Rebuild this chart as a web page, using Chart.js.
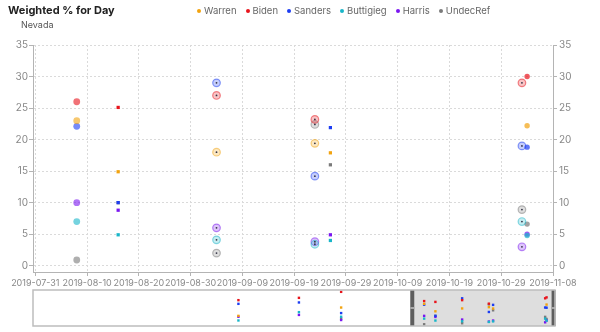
<!DOCTYPE html>
<html>
<head>
  <meta charset="utf-8">
  <title>Weighted % for Day</title>
  <style>
    body { margin: 0; background: #fff; font-family: Inter, "Noto Sans", sans-serif; }
    #wrap { position: relative; width: 600px; height: 332px; overflow: hidden; }
    #title { position: absolute; left: 8px; top: 3px; font-size: 11px; font-weight: 700; color: #222; }
    #sub { position: absolute; left: 21px; top: 19px; font-size: 9px; color: #555; }
    #legend { position: absolute; left: 197px; top: 5px; font-size: 9.5px; color: #666; display: flex; }
    #legend .item { display: flex; align-items: center; margin-right: 9px; }
    #legend i { display: inline-block; width: 4px; height: 4px; border-radius: 50%; margin-right: 3px; }
    #main { position: absolute; left: 0; top: 0; }
    #nav { position: absolute; left: 0; top: 286px; }
  </style>
</head>
<body>
<script src="https://cdn.jsdelivr.net/npm/chart.js@4/dist/chart.umd.min.js"></script>
<div id="wrap">
  <canvas id="main" width="600" height="292"></canvas>
  <canvas id="nav" width="600" height="46"></canvas>
  <div id="title">Weighted % for Day</div>
  <div id="sub">Nevada</div>
  <div id="legend"></div>
</div>
<script>
  // data
  var candidates = ['Warren', 'Biden', 'Sanders', 'Buttigieg', 'Harris', 'UndecRef'];
  var pollDates = ['2019-03-29', '2019-05-11', '2019-06-10', '2019-08-08', '2019-08-16',
                   '2019-09-04', '2019-09-23', '2019-09-26', '2019-11-02', '2019-11-03'];
  var warren    = [10,   null, 19,   23,  14.9, 18,  19.4, 17.9, null, 22.2];
  var biden     = [27,   29.5, 36,   26,  25.1, 27,  23.2, null, 29,   30];
  var sanders   = [23,   24.5, 13,   22.1, 10,  29,  14.2, 21.9, 19,   18.8];
  var buttigieg = [5,    14,   9,    7,   4.9,  4.1, 3.4,  4,    7,    4.8];
  var harris    = [9,    11,   5.5,  10,  8.8,  6,   3.8,  4.9,  3,    5];
  var undecRef  = [null, null, 7,    0.9, 10,   2,   22.4, 16,   8.9,  6.6];
  var series = [warren, biden, sanders, buttigieg, harris, undecRef];

  var xTicks = ['2019-07-31', '2019-08-10', '2019-08-20', '2019-08-30', '2019-09-09', '2019-09-19',
                '2019-09-29', '2019-10-09', '2019-10-19', '2019-10-29', '2019-11-08'];
  var yTicks = [0, 5, 10, 15, 20, 25, 30, 35];
  var navRange = ['2018-11-03', '2019-11-09'];

  // styles
  var colors = ['#f2a30f', '#e8141c', '#1c3df2', '#19b6c9', '#7a16f0', '#7a7a7a'];
  var markerForPoll = ['dot', 'dot', 'dot', 'soft', 'square', 'ring', 'ring', 'square', 'ring', 'dot'];
  var DAY = 86400000;
  var mainMin = Date.parse(xTicks[0]) - 0.45 * DAY;
  var mainMax = Date.parse(xTicks[xTicks.length - 1]);
  var tickFont = { family: 'Inter', size: 9 };

  function rgba(hex, a) {
    var n = parseInt(hex.slice(1), 16);
    return 'rgba(' + (n >> 16) + ',' + ((n >> 8) & 255) + ',' + (n & 255) + ',' + a + ')';
  }

  function points(values) {
    return pollDates.map(function(d, i) { return { x: Date.parse(d), y: values[i] }; });
  }

  // legend
  var legend = document.getElementById('legend');
  candidates.forEach(function(name, i) {
    var item = document.createElement('span');
    item.className = 'item';
    item.innerHTML = '<i style="background:' + colors[i] + '"></i>' + name;
    legend.appendChild(item);
  });

  function mainDataset(name, i) {
    var c = colors[i];
    function kind(ctx) { return markerForPoll[ctx.dataIndex]; }
    return {
      label: name,
      data: points(series[i]),
      pointStyle: function(ctx) { return kind(ctx) === 'square' ? 'rect' : 'circle'; },
      pointRadius: function(ctx) {
        var k = kind(ctx);
        return k === 'ring' ? 3.8 : k === 'soft' ? 3.4 : k === 'square' ? 2.3 : 2.7;
      },
      backgroundColor: function(ctx) {
        var k = kind(ctx);
        return k === 'ring' ? rgba(c, 0.25) : k === 'soft' ? rgba(c, 0.6) : k === 'square' ? c : rgba(c, 0.7);
      },
      borderColor: function(ctx) { return kind(ctx) === 'ring' ? rgba(c, 0.5) : 'rgba(0,0,0,0)'; },
      borderWidth: function(ctx) { return kind(ctx) === 'ring' ? 1.2 : 0; },
      pointHoverRadius: 4
    };
  }

  // dark dot in the middle of the ringed markers
  var ringCenters = {
    id: 'ringCenters',
    afterDatasetsDraw: function(chart) {
      var ctx = chart.ctx;
      chart.data.datasets.forEach(function(ds, di) {
        chart.getDatasetMeta(di).data.forEach(function(pt, i) {
          if (markerForPoll[i] !== 'ring' || pt.skip) return;
          ctx.save();
          ctx.beginPath();
          ctx.arc(pt.x, pt.y, 0.9, 0, 2 * Math.PI);
          ctx.fillStyle = '#334';
          ctx.fill();
          ctx.restore();
        });
      });
    }
  };

  var gridColor = '#dadada';
  var axisColor = '#b4b4b4';

  new Chart(document.getElementById('main'), {
    type: 'scatter',
    data: { datasets: candidates.map(mainDataset) },
    options: {
      responsive: false,
      animation: false,
      layout: { padding: { top: 45, left: 0, right: 0, bottom: 0 } },
      plugins: { legend: { display: false }, tooltip: { enabled: false } },
      scales: {
        x: {
          type: 'linear',
          min: mainMin,
          max: mainMax,
          afterBuildTicks: function(axis) {
            axis.ticks = xTicks.map(function(d) { return { value: Date.parse(d) }; });
          },
          afterFit: function(axis) { axis.height = 20; },
          ticks: {
            callback: function(v) { return new Date(v).toISOString().slice(0, 10); },
            autoSkip: false, maxRotation: 0, color: '#888', font: tickFont, padding: 2
          },
          grid: { color: gridColor, tickColor: axisColor, tickLength: 4 },
          border: { color: axisColor, dash: [2, 2] }
        },
        y: {
          position: 'left',
          min: -1,
          max: 35,
          afterBuildTicks: function(axis) {
            axis.ticks = yTicks.map(function(v) { return { value: v }; });
          },
          afterFit: function(axis) { axis.width = 33; },
          ticks: { color: '#888', font: { family: 'Inter', size: 10 }, padding: 1 },
          grid: { color: gridColor, tickColor: axisColor, tickLength: 4 },
          border: { color: axisColor, dash: [2, 2] }
        },
        y2: {
          position: 'right',
          min: -1,
          max: 35,
          afterBuildTicks: function(axis) {
            axis.ticks = yTicks.map(function(v) { return { value: v }; });
          },
          afterFit: function(axis) { axis.width = 47; },
          ticks: { color: '#888', font: { family: 'Inter', size: 10 }, padding: 2 },
          grid: { drawOnChartArea: false, color: gridColor, tickColor: axisColor, tickLength: 4 },
          border: { color: axisColor }
        }
      }
    },
    plugins: [ringCenters]
  });

  // navigator below the chart
  var navWindow = {
    id: 'navWindow',
    beforeDatasetsDraw: function(chart) {
      var ctx = chart.ctx, a = chart.chartArea, xs = chart.scales.x;
      var x1 = xs.getPixelForValue(mainMin), x2 = xs.getPixelForValue(mainMax);
      ctx.save();
      ctx.fillStyle = '#dedede';
      ctx.fillRect(x1, a.top, x2 - x1, a.bottom - a.top);
      ctx.restore();
    },
    afterDatasetsDraw: function(chart) {
      var ctx = chart.ctx, a = chart.chartArea, xs = chart.scales.x;
      var h = a.bottom - a.top;
      ctx.save();
      [mainMin, mainMax].forEach(function(v) {
        var px = xs.getPixelForValue(v);
        ctx.fillStyle = '#5e5e5e';
        ctx.fillRect(px - 2, a.top, 4, h);
        ctx.fillStyle = '#a8a8a8';
        ctx.fillRect(px - 2, a.top + h / 2 - 1, 4, 2);
      });
      ctx.strokeStyle = '#bdbdbd';
      ctx.lineWidth = 1.5;
      ctx.strokeRect(a.left, a.top, a.right - a.left, h);
      ctx.restore();
    }
  };

  new Chart(document.getElementById('nav'), {
    type: 'scatter',
    data: {
      datasets: candidates.map(function(name, i) {
        return {
          label: name,
          data: points(series[i]),
          pointStyle: 'rect',
          pointRadius: 1.7,
          backgroundColor: colors[i],
          borderWidth: 0
        };
      })
    },
    options: {
      responsive: false,
      animation: false,
      layout: { padding: { top: 4, left: 33, right: 45, bottom: 6 } },
      plugins: { legend: { display: false }, tooltip: { enabled: false } },
      scales: {
        x: { type: 'linear', display: false, min: Date.parse(navRange[0]), max: Date.parse(navRange[1]) },
        y: { display: false, min: -1, max: 38 }
      }
    },
    plugins: [navWindow]
  });
</script>
</body>
</html>
